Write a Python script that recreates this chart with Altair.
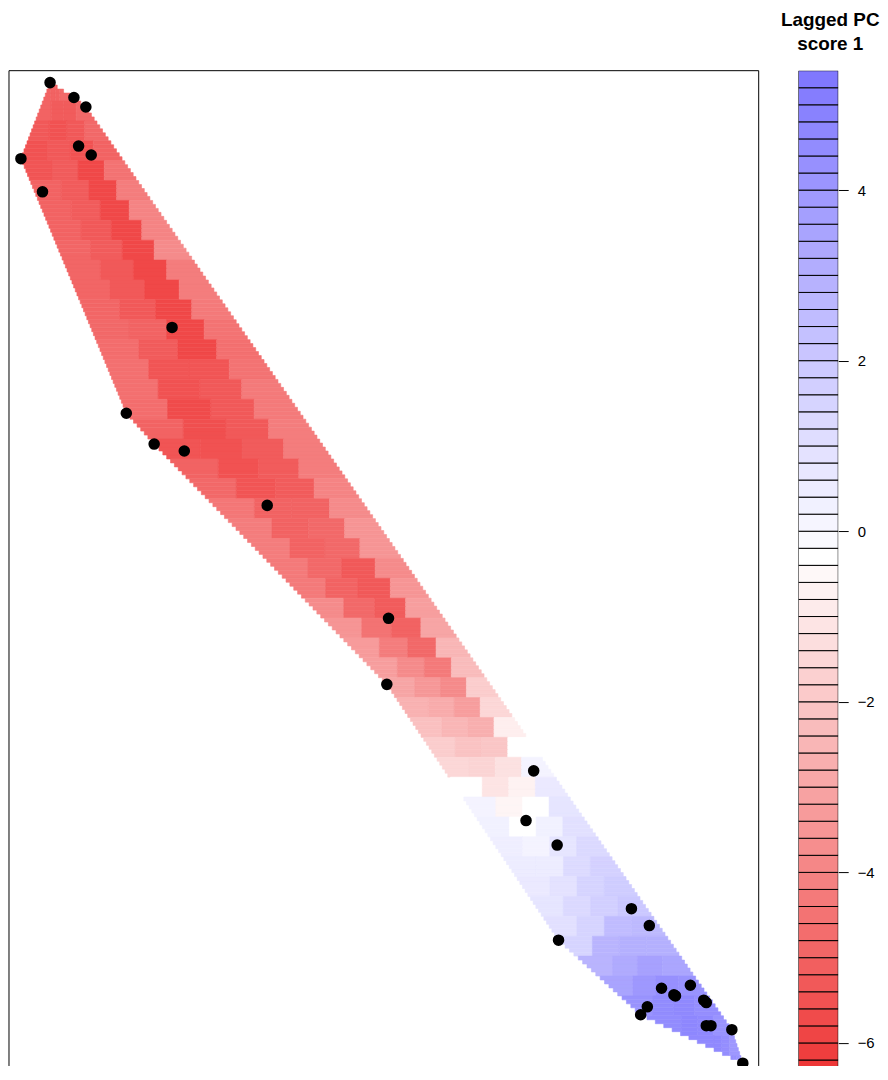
import altair as alt
import pandas as pd

# ---- sample points (plot units: x to the right, y upward) ----
pt_x = [41.3, 65.3, 77.3, 70.0, 82.7, 12.0, 33.7, 164.0, 118.0, 146.0, 176.3,
        259.7, 381.7, 380.0, 527.7, 520.0, 551.3, 626.0, 644.0, 552.7, 656.3,
        685.3, 668.7, 670.3, 698.7, 701.3, 642.0, 635.3, 701.3, 706.0, 727.0, 738.0]
pt_y = [999.5, 984.5, 975.0, 935.7, 926.7, 923.0, 889.7, 753.3, 667.0, 636.0, 629.0,
        574.3, 460.7, 394.3, 307.3, 257.3, 232.7, 168.7, 151.7, 137.0, 88.7,
        91.7, 82.0, 81.0, 76.7, 74.3, 70.0, 62.0, 51.0, 51.0, 47.0, 13.3]

# points that lie on the convex hull (the surface is only drawn inside it)
hull_left = [0, 5, 8, 9, 13, 19, 27, 31]
hull_right = [0, 1, 2, 30, 31]

# ---- interpolated surface, read row by row (row centre, left/right edge, 4 cell values) ----
row_y = [991, 971, 951, 931, 911, 891, 871, 851, 831, 811, 791, 771, 751, 731, 711,
         691, 671, 651, 631, 611, 591, 571, 551, 531, 511, 491, 471, 451, 431, 411,
         391, 371, 351, 331, 311, 291, 271, 251, 231, 211, 191, 171, 151, 131, 111,
         91, 71, 51, 31, 11]
row_xl = [37.6, 30.0, 22.5, 15.0, 17.0, 25.0, 33.5, 42.0, 50.0, 58.4, 66.6, 75.0, 83.0,
          91.5, 100.0, 108.0, 116.0, 132.4, 150.8, 170.0, 189.5, 209.0, 228.0, 247.5,
          267.0, 286.0, 305.6, 325.0, 344.0, 363.6, 382.0, 395.5, 409.0, 422.4, 436.0,
          449.3, 462.8, 476.3, 489.7, 503.2, 516.6, 530.0, 543.5, 559.7, 582.0, 604.6,
          627.0, 660.5, 701.3, 725.0]
row_xr = [55.4, 80.0, 94.0, 108.0, 122.0, 136.0, 150.0, 164.0, 178.0, 192.0, 206.0,
          220.0, 234.0, 248.0, 262.0, 276.0, 290.0, 304.0, 318.0, 332.0, 346.0, 360.0,
          374.0, 388.0, 402.0, 416.0, 430.0, 444.0, 458.0, 472.0, 486.0, 500.0, 514.0,
          528.0, 542.0, 556.0, 570.0, 584.0, 598.0, 612.0, 626.0, 640.0, 654.0, 668.0,
          682.0, 696.0, 710.0, 724.0, 732.0, 738.0]
row_v = [
    [-5.0, -5.0, -5.0, -4.8], [-5.0, -5.2, -5.2, -4.8], [-5.3, -5.5, -5.3, -4.8],
    [-5.5, -5.3, -5.5, -5.0], [-5.4, -5.2, -5.8, -4.5], [-5.0, -5.2, -5.8, -4.2],
    [-5.0, -5.2, -5.8, -4.0], [-5.0, -5.3, -5.8, -4.0], [-4.9, -5.2, -5.8, -3.8],
    [-4.9, -5.3, -5.8, -4.2], [-4.9, -5.3, -5.8, -4.2], [-4.9, -5.3, -5.8, -4.3],
    [-4.8, -5.0, -5.8, -4.5], [-4.7, -5.2, -5.8, -4.6], [-4.6, -5.4, -5.4, -4.5],
    [-4.6, -5.5, -5.3, -4.3], [-4.7, -5.7, -5.3, -4.3], [-5.0, -5.6, -5.3, -4.2],
    [-5.4, -5.5, -5.2, -4.2], [-5.0, -5.5, -5.2, -4.2], [-4.8, -5.4, -5.2, -4.0],
    [-4.4, -5.0, -5.0, -3.8], [-4.2, -5.0, -4.8, -3.5], [-4.2, -5.0, -4.8, -3.5],
    [-4.3, -4.8, -5.3, -3.8], [-4.3, -5.0, -5.3, -3.5], [-3.8, -4.8, -5.2, -3.2],
    [-3.5, -4.5, -5.0, -3.0], [-3.3, -4.2, -4.8, -2.5], [-3.2, -3.8, -4.3, -2.3],
    [-3.0, -3.4, -3.8, -1.8], [-2.6, -2.8, -3.2, -1.5], [-2.2, -2.5, -2.7, -0.8],
    [-1.8, -2.1, -2.0, -0.3], [-1.5, -1.6, -1.2, 0.2], [-0.3, -1.1, -0.7, 0.6],
    [0.2, -0.6, -0.3, 0.8], [0.3, -0.3, 0.3, 1.0], [0.4, 0.2, 0.8, 1.3],
    [0.5, 0.5, 1.2, 1.6], [0.6, 0.9, 1.5, 1.8], [0.8, 1.3, 1.7, 2.0],
    [1.0, 1.5, 2.5, 2.6], [1.5, 2.8, 3.0, 3.0], [2.8, 3.2, 3.6, 3.4],
    [3.5, 4.0, 4.3, 4.2], [4.2, 4.5, 4.6, 4.4], [4.5, 4.7, 4.6, 4.2],
    [4.6, 4.6, 4.4, 4.0], [4.3, 4.3, 4.2, 4.0],
]

# colour key
key_ticks = [-6, -4, -2, 0, 2, 4]
key_min, key_mid, key_max = -6.4, -0.3, 5.4
key_colors = ["#ee3434", "#ffffff", "#7e76fe"]

# ---- layout ----
W, H = 754, 1001
X_MIN, X_MAX = 0, 754
Y_MIN, Y_MAX = 10.5, 1011.5
KEY_LOW = -6.27          # lower end of the key visible on the page
FONT = "Liberation Sans"
ROW_H = 20               # height of one read row
SUB = 5                  # slices per row, so the cells follow the hull outline


def hull_edge(chain, y):
    """x of the hull outline (straight segments between hull points) at height y."""
    vs = sorted((pt_y[i], pt_x[i]) for i in chain)
    for (y0, x0), (y1, x1) in zip(vs, vs[1:]):
        if y0 <= y <= y1:
            return x0 + (x1 - x0) * (y - y0) / (y1 - y0)
    return None


# ---- build the surface table ----
cells = []
sub_h = ROW_H / SUB
for yc, xl, xr, vals in zip(row_y, row_xl, row_xr, row_v):
    n = len(vals)
    w = (xr - xl) / n
    for s in range(SUB):
        y0 = yc - ROW_H / 2 + s * sub_h
        ym = y0 + sub_h / 2
        hl, hr = hull_edge(hull_left, ym), hull_edge(hull_right, ym)
        if hl is None or hr is None or hr <= hl:
            continue
        for i, v in enumerate(vals):
            a = hl if i == 0 else max(xl + i * w, hl)
            b = hr if i == n - 1 else min(xl + (i + 1) * w, hr)
            if b <= a:
                continue
            cells.append({"x": a, "x2": b, "y": y0, "y2": y0 + sub_h, "v": v})
cells_df = pd.DataFrame(cells)
pts_df = pd.DataFrame({"x": pt_x, "y": pt_y})
frame_df = pd.DataFrame({"x": [X_MIN, X_MIN, X_MAX], "x2": [X_MIN, X_MAX, X_MAX],
                         "y": [Y_MIN, Y_MAX, Y_MIN], "y2": [Y_MAX, Y_MAX, Y_MAX]})

xs = alt.Scale(domain=[X_MIN, X_MAX], nice=False, zero=False)
ys = alt.Scale(domain=[Y_MIN, Y_MAX], nice=False, zero=False)
cs = alt.Scale(domain=[key_min, key_mid, key_max], range=key_colors, interpolate="rgb")

surface = alt.Chart(cells_df).mark_rect(strokeWidth=0.6, clip=True).encode(
    x=alt.X("x:Q", scale=xs, axis=None),
    x2="x2:Q",
    y=alt.Y("y:Q", scale=ys, axis=None),
    y2="y2:Q",
    color=alt.Color("v:Q", scale=cs, legend=None),
    stroke=alt.Stroke("v:Q", scale=cs, legend=None),
)
frame = alt.Chart(frame_df).mark_rule(color="black", strokeWidth=1).encode(
    x=alt.X("x:Q", scale=xs, axis=None), x2="x2:Q",
    y=alt.Y("y:Q", scale=ys, axis=None), y2="y2:Q",
)
points = alt.Chart(pts_df).mark_circle(size=135, color="black", opacity=1, clip=True).encode(
    x=alt.X("x:Q", scale=xs, axis=None),
    y=alt.Y("y:Q", scale=ys, axis=None),
)
main = alt.layer(surface, frame, points).properties(width=W, height=H)

key = alt.Chart(alt.sequence(start=key_min, stop=5.3, step=0.2, as_="lo")).transform_calculate(
    hi="datum.lo + 0.2", mid="datum.lo + 0.1"
).mark_rect(stroke="black", strokeWidth=1, clip=True).encode(
    y=alt.Y("lo:Q", scale=alt.Scale(domain=[KEY_LOW, key_max], nice=False, zero=False),
            axis=alt.Axis(values=key_ticks, orient="right", tickSize=10, tickColor="black",
                          domain=False, grid=False, title=None, labelFont=FONT,
                          labelFontSize=15, labelColor="black", labelPadding=9,
                          format="d")),
    y2="hi:Q",
    color=alt.Color("mid:Q", scale=cs, legend=None),
).properties(
    width=40, height=H,
    title=alt.TitleParams(["Lagged PC", "score 1"], font=FONT, fontSize=19, fontWeight="bold",
                          lineHeight=24, anchor="middle", dx=12, offset=16.5, color="black"),
)

chart = alt.hconcat(main, key, spacing=40, bounds="flush").properties(
    padding={"left": 0, "top": 0, "right": 0, "bottom": 0}
).configure_view(stroke=None).resolve_scale(color="independent")

chart.save("out.html", embed_options={"renderer": "svg", "actions": False})
